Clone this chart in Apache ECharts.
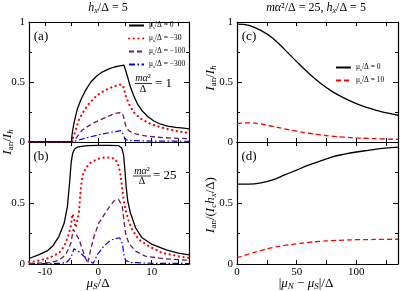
<!DOCTYPE html>
<html><head><meta charset="utf-8">
<script src="https://cdn.jsdelivr.net/npm/echarts@6/dist/echarts.min.js"></script>
<style>html,body{margin:0;padding:0;background:#fff}#c{width:415px;height:291px}</style>
</head><body><div id="c"></div>
<script>
// ---------------- data ----------------
const leftXTicks = [-10, -5, 0, 5, 10, 15];
const leftXLabels = [-10, 0, 10];
const rightXTicks = [25, 50, 75, 100, 125];
const rightXLabels = [0, 50, 100];
const yLabelsTop = [0, 0.5, 1];
const yLabelsBottom = [0, 0.5];
const legendAValues = ['0', '\u221230', '\u2212100', '\u2212300'];
const legendCValues = ['0', '10'];

// panel (a): m alpha^2/Delta = 1
const a0X = [-13, -5.02, -4.95, -4.8, -4.6, -4.3, -3.9, -3.3, -2.4, -1.4, -0.3, 0.8, 2.0, 3.0, 4.0, 4.8, 5.1, 5.5, 6.0, 6.6, 7.3, 8.2, 9.2, 10.4, 11.7, 13.0, 14.5, 16.0, 17.0];
const a0Y = [0, 0, 0.05, 0.1, 0.15, 0.21, 0.28, 0.35, 0.43, 0.5, 0.55, 0.585, 0.61, 0.625, 0.635, 0.64, 0.6, 0.54, 0.46, 0.39, 0.32, 0.26, 0.215, 0.175, 0.148, 0.132, 0.122, 0.115, 0.11];
const a30X = [-13, -5.02, -4.8, -4.4, -3.6, -2.7, -1.75, -0.8, 0.4, 1.7, 3.0, 4.0, 4.5, 4.8, 5.1, 5.7, 6.6, 7.9, 9.8, 12.3, 14.8, 17];
const a30Y = [0, 0, 0.03, 0.08, 0.19, 0.26, 0.32, 0.365, 0.41, 0.44, 0.465, 0.478, 0.476, 0.45, 0.39, 0.32, 0.25, 0.195, 0.15, 0.115, 0.09, 0.075];
const a100X = [-13, -5.02, -4.2, -3.0, -1.1, 1.4, 2.9, 4.0, 4.5, 4.8, 5.1, 5.5, 6.0, 7.0, 7.9, 9.5, 11, 14, 17];
const a100Y = [0, 0, 0.03, 0.1, 0.155, 0.205, 0.235, 0.245, 0.24, 0.2, 0.14, 0.105, 0.086, 0.068, 0.058, 0.047, 0.04, 0.032, 0.028];
const a300X = [-13, -5.02, -4.2, -1.75, 0.75, 2.9, 4.3, 4.6, 4.8, 5.0, 5.5, 6, 8, 10, 17];
const a300Y = [0, 0, 0.01, 0.04, 0.067, 0.085, 0.095, 0.09, 0.05, 0.02, 0.015, 0.012, 0.01, 0.008, 0.006];

// panel (b): m alpha^2/Delta = 25
const b0X = [-13, -11.1, -9.5, -8.6, -7.4, -6.4, -5.8, -5.4, -5.1, -4.8, -4.4, -3.8, -2, 0, 2, 3.8, 4.4, 4.75, 5.0, 5.2, 5.5, 6.0, 7.0, 8.2, 10.1, 12.6, 15, 17];
const b0Y = [0.045, 0.077, 0.11, 0.145, 0.225, 0.336, 0.47, 0.66, 0.83, 0.91, 0.945, 0.96, 0.97, 0.973, 0.973, 0.97, 0.95, 0.89, 0.76, 0.64, 0.52, 0.42, 0.295, 0.215, 0.16, 0.118, 0.09, 0.075];
const b30X = [-13, -11.7, -9.2, -7.4, -6.4, -5.8, -5.15, -4.85, -4.55, -4.25, -3.95, -3.65, -3.3, -3.0, -2.4, -1.44, -0.2, 1.0, 2.2, 3.2, 3.85, 4.2, 4.5, 4.8, 5.2, 5.7, 6.35, 7.6, 9.5, 12, 15, 17];
const b30Y = [0.015, 0.023, 0.05, 0.09, 0.145, 0.21, 0.31, 0.41, 0.37, 0.3, 0.3, 0.42, 0.61, 0.72, 0.785, 0.83, 0.86, 0.872, 0.872, 0.86, 0.8, 0.72, 0.61, 0.51, 0.43, 0.35, 0.28, 0.2, 0.145, 0.09, 0.064, 0.05];
const b100X = [-13, -9, -7.4, -6.1, -5.15, -4.7, -4.4, -3.6, -3.0, -2.4, -2.0, -1.7, -1.44, -0.8, 0.1, 1.7, 2.9, 3.85, 4.5, 4.8, 5.1, 5.7, 7.0, 8.8, 12.6, 17];
const b100Y = [0.003, 0.012, 0.03, 0.077, 0.17, 0.285, 0.27, 0.2, 0.118, 0.05, 0.005, 0.06, 0.118, 0.227, 0.336, 0.445, 0.515, 0.527, 0.47, 0.36, 0.255, 0.17, 0.105, 0.064, 0.042, 0.03];
const b300X = [-13, -7, -6, -5.15, -4.56, -4.2, -3.6, -2.7, -1.75, -1.0, -0.6, -0.2, 1.0, 2.3, 3.2, 4.0, 4.5, 4.8, 5.1, 6, 10, 17];
const b300Y = [0.002, 0.005, 0.012, 0.05, 0.125, 0.115, 0.1, 0.064, 0.03, 0.005, 0.035, 0.077, 0.145, 0.195, 0.208, 0.215, 0.17, 0.077, 0.03, 0.012, 0.006, 0.004];

// panels (c), (d): |mu_N - mu_S|/Delta
const rightX = [0, 10, 20, 30, 40, 50, 60, 70, 80, 90, 100, 110, 120, 135];
const c0Y = [0.982, 0.972, 0.93, 0.865, 0.77, 0.67, 0.575, 0.49, 0.42, 0.365, 0.32, 0.285, 0.255, 0.223];
const c10Y = [0.155, 0.16, 0.15, 0.13, 0.11, 0.09, 0.073, 0.06, 0.048, 0.04, 0.034, 0.03, 0.026, 0.022];
const d0Y = [0.655, 0.655, 0.665, 0.69, 0.73, 0.77, 0.81, 0.845, 0.878, 0.9, 0.918, 0.932, 0.945, 0.958];
const d10Y = [0.05, 0.083, 0.11, 0.135, 0.152, 0.165, 0.177, 0.186, 0.192, 0.196, 0.199, 0.2, 0.202, 0.203];

// ---------------- chart ----------------
const F = '"Liberation Serif", "DejaVu Serif", serif';
const pts = (xs, ys) => xs.map((x, i) => [x, ys[i]]);

const ST = {
  black: { color: '#000000', width: 1.3, type: 'solid' },
  redDot: { color: '#ff0000', width: 2.2, type: [0.1, 4.6], cap: 'round' },
  purple: { color: '#6b1a5e', width: 1.3, type: [5, 3] },
  blue: { color: '#0000ff', width: 1.2, type: [6, 2.5, 1.5, 2.5] },
  redDash: { color: '#ff0000', width: 1.3, type: [5, 3] }
};

const grids = [
  { left: 29, top: 22, width: 160, height: 120 },
  { left: 29, top: 142, width: 160, height: 122 },
  { left: 237, top: 22, width: 161, height: 120 },
  { left: 237, top: 142, width: 161, height: 122 }
];

const axLine = { show: true, onZero: false, lineStyle: { color: '#000', width: 1.2 } };
const lblStyle = { fontFamily: F, fontSize: 11, color: '#000' };

function xAx(g, pos, min, max, ticks, labels) {
  return {
    type: 'value', gridIndex: g, position: pos, min: min, max: max,
    axisLine: axLine, splitLine: { show: false },
    axisTick: { show: true, inside: true, length: 4, customValues: ticks, lineStyle: { color: '#000', width: 1 } },
    axisLabel: labels ? Object.assign({ show: true, customValues: labels, margin: 3 }, lblStyle) : { show: false }
  };
}
function yAx(g, pos, labels) {
  return {
    type: 'value', gridIndex: g, position: pos, min: 0, max: 1, interval: 0.5,
    axisLine: axLine, splitLine: { show: false },
    axisTick: { show: true, inside: true, length: 5, lineStyle: { color: '#000', width: 1 } },
    minorTick: { show: true, splitNumber: 2, length: 3, lineStyle: { color: '#000', width: 1 } },
    minorSplitLine: { show: false },
    axisLabel: labels ? Object.assign({ show: true, customValues: labels, margin: 4 }, lblStyle) : { show: false }
  };
}

const xAxis = [
  xAx(0, 'bottom', -13, 17, leftXTicks, null), xAx(0, 'top', -13, 17, leftXTicks, null),
  xAx(1, 'bottom', -13, 17, leftXTicks, leftXLabels), xAx(1, 'top', -13, 17, leftXTicks, null),
  xAx(2, 'bottom', 0, 135, rightXTicks, null), xAx(2, 'top', 0, 135, rightXTicks, null),
  xAx(3, 'bottom', 0, 135, rightXTicks, rightXLabels), xAx(3, 'top', 0, 135, rightXTicks, null)
];
const yAxis = [
  yAx(0, 'left', yLabelsTop), yAx(0, 'right', null),
  yAx(1, 'left', yLabelsBottom), yAx(1, 'right', null),
  yAx(2, 'left', yLabelsTop), yAx(2, 'right', null),
  yAx(3, 'left', yLabelsBottom), yAx(3, 'right', null)
];

function ser(name, g, xs, ys, st, z, smooth) {
  return {
    name: name, type: 'line', xAxisIndex: 2 * g, yAxisIndex: 2 * g,
    data: pts(xs, ys), symbol: 'none', showSymbol: false, smooth: smooth || false,
    lineStyle: st, itemStyle: { color: st.color }, z: z, silent: true, clip: true
  };
}

const series = [
  ser('a300', 0, a300X, a300Y, ST.blue, 2), ser('a100', 0, a100X, a100Y, ST.purple, 3),
  ser('a30', 0, a30X, a30Y, ST.redDot, 4), ser('a0', 0, a0X, a0Y, ST.black, 5),
  ser('b300', 1, b300X, b300Y, ST.blue, 2), ser('b100', 1, b100X, b100Y, ST.purple, 3),
  ser('b30', 1, b30X, b30Y, ST.redDot, 4), ser('b0', 1, b0X, b0Y, ST.black, 5),
  ser('c10', 2, rightX, c10Y, ST.redDash, 3, 0.4), ser('c0', 2, rightX, c0Y, ST.black, 4, 0.4),
  ser('d10', 3, rightX, d10Y, ST.redDash, 3, 0.4), ser('d0', 3, rightX, d0Y, ST.black, 4, 0.4)
];

const legRich = {
  m: { fontFamily: F, fontSize: 7.5, color: '#000', lineHeight: 9 },
  s: { fontFamily: F, fontSize: 5, color: '#000', lineHeight: 5, padding: [4, 0, 0, 0], verticalAlign: 'bottom' }
};
const legendNames = {};
['a0', 'a30', 'a100', 'a300'].forEach((n, i) => { legendNames[n] = '{m|\u03bc}{s|s}{m|/\u0394 = ' + legendAValues[i] + '}'; });
['c0', 'c10'].forEach((n, i) => { legendNames[n] = '{m|\u03bc}{s|s}{m|/\u0394 = ' + legendCValues[i] + '}'; });

function leg(names, left, top) {
  return {
    data: names, orient: 'vertical', left: left, top: top, itemWidth: 15, itemHeight: 8, itemGap: 4,
    selectedMode: false, padding: 0, formatter: n => legendNames[n],
    itemStyle: { opacity: 0 },
    textStyle: { fontFamily: F, fontSize: 7.5, color: '#000', rich: legRich }
  };
}

function rich(size) {
  const sub = Math.round(size * 0.7);
  return {
    n: { font: size + 'px ' + F, lineHeight: size + 2, verticalAlign: 'middle' },
    i: { font: 'italic ' + size + 'px ' + F, lineHeight: size + 2, verticalAlign: 'middle' },
    s: { font: sub + 'px ' + F, lineHeight: sub, padding: [sub, 0, 0, 0], verticalAlign: 'bottom' },
    si: { font: 'italic ' + sub + 'px ' + F, lineHeight: sub, padding: [sub, 0, 0, 0], verticalAlign: 'bottom' }
  };
}
function txt(x, y, text, size, opts) {
  return Object.assign({
    type: 'text', x: x, y: y, silent: true,
    style: { text: text, rich: rich(size), font: size + 'px ' + F, fill: '#000', align: 'center', verticalAlign: 'middle' }
  }, opts || {});
}

const graphic = [
  txt(108, 8, '{i|h}{si|x}{n|/\u0394 = 5}', 12),
  txt(316, 8, '{i|m\u03b1}{n|\u00b2/\u0394 = 25, }{i|h}{si|x}{n|/\u0394 = 5}', 12),
  txt(98, 284, '{i|\u03bc}{si|S}{n|/\u0394}', 13),
  txt(306, 284, '{n||}{i|\u03bc}{si|N}{n| \u2212 }{i|\u03bc}{si|S}{n||/\u0394}', 13),
  txt(8, 142, '{i|I}{s|an}{n|/}{i|I}{si|h}', 13, { rotation: Math.PI / 2 }),
  txt(211, 78, '{i|I}{s|an}{n|/}{i|I}{si|h}', 13, { rotation: Math.PI / 2 }),
  txt(211, 205, '{i|I}{s|an}{n|/(}{i|I}{si|c}{i|h}{si|x}{n|/\u0394)}', 13, { rotation: Math.PI / 2 }),
  txt(41, 37, '{n|(a)}', 13), txt(41, 157, '{n|(b)}', 13),
  txt(249, 37, '{n|(c)}', 13), txt(249, 157, '{n|(d)}', 13),
  // fraction m alpha^2 / Delta = 1
  txt(143, 78.5, '{i|m\u03b1}{n|\u00b2}', 10),
  { type: 'line', silent: true, shape: { x1: 135, y1: 83.5, x2: 152, y2: 83.5 }, style: { stroke: '#000', lineWidth: 0.8 } },
  txt(143, 89, '{n|\u0394}', 10),
  txt(155, 84, '{n|= 1}', 13, { style: { text: '{n|= 1}', rich: rich(13), fill: '#000', align: 'left', verticalAlign: 'middle' } }),
  // fraction m alpha^2 / Delta = 25
  txt(142, 171, '{i|m\u03b1}{n|\u00b2}', 10),
  { type: 'line', silent: true, shape: { x1: 133, y1: 176, x2: 151, y2: 176 }, style: { stroke: '#000', lineWidth: 0.8 } },
  txt(142, 181.5, '{n|\u0394}', 10),
  txt(153, 176, '{n|= 25}', 13, { style: { text: '{n|= 25}', rich: rich(13), fill: '#000', align: 'left', verticalAlign: 'middle' } })
];

const chart = echarts.init(document.getElementById('c'), null, { renderer: 'canvas' });
chart.setOption({
  animation: false,
  backgroundColor: '#fff',
  grid: grids,
  xAxis: xAxis,
  yAxis: yAxis,
  legend: [leg(['a0', 'a30', 'a100', 'a300'], 128, 21), leg(['c0', 'c10'], 335, 63)],
  series: series,
  graphic: graphic
});
</script>
</body></html>
